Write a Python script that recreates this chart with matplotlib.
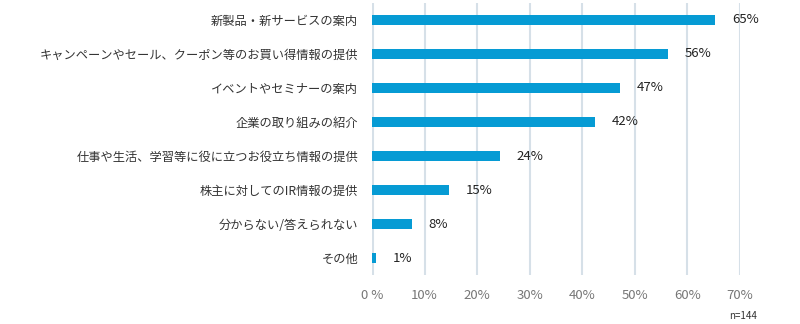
import matplotlib
matplotlib.use("Agg")
import matplotlib.pyplot as plt

plt.rcParams['font.family'] = ['Noto Sans CJK JP', 'DejaVu Sans']

categories = [
    "新製品・新サービスの案内",
    "キャンペーンやセール、クーポン等のお買い得情報の提供",
    "イベントやセミナーの案内",
    "企業の取り組みの紹介",
    "仕事や生活、学習等に役に立つお役立ち情報の提供",
    "株主に対してのIR情報の提供",
    "分からない/答えられない",
    "その他",
]
values = [65.3, 56.3, 47.2, 42.4, 24.3, 14.6, 7.6, 0.7]
value_labels = ["65%", "56%", "47%", "42%", "24%", "15%", "8%", "1%"]
xticks = [0, 10, 20, 30, 40, 50, 60, 70]
xtick_labels = ["0 %", "10%", "20%", "30%", "40%", "50%", "60%", "70%"]

bar_color = "#069bd4"
grid_color = "#d6e0e8"

fig = plt.figure(figsize=(8, 3.24), dpi=100)
ax = fig.add_axes([0.465, 0.151, 0.46, 0.84])

ypos = list(range(len(categories)))
ax.barh(ypos, values, height=0.3, color=bar_color, zorder=3)

for y, v, lab in zip(ypos, values, value_labels):
    ax.annotate(lab, (v, y), xytext=(12, 0), textcoords="offset points",
                va="center", ha="left", fontsize=9.5, color="#222222")

ax.set_xlim(0, 70)
ax.set_ylim(len(categories) - 0.5, -0.5)
ax.set_yticks(ypos)
ax.set_yticklabels(categories, fontsize=8.8, color="#333333")
ax.set_xticks(xticks)
ax.set_xticklabels(xtick_labels, fontsize=9.5, color="#777777")
ax.tick_params(axis="both", length=0)
ax.tick_params(axis="y", pad=10)
ax.tick_params(axis="x", pad=10)

for x in xticks:
    ax.axvline(x, color=grid_color, lw=1.5 if x else 2.2, zorder=1)

for s in ax.spines.values():
    s.set_visible(False)

fig.text(0.929, 0.015, "n=144", fontsize=7, color="#333333", ha="center")

fig.savefig("out.png", dpi=100)
